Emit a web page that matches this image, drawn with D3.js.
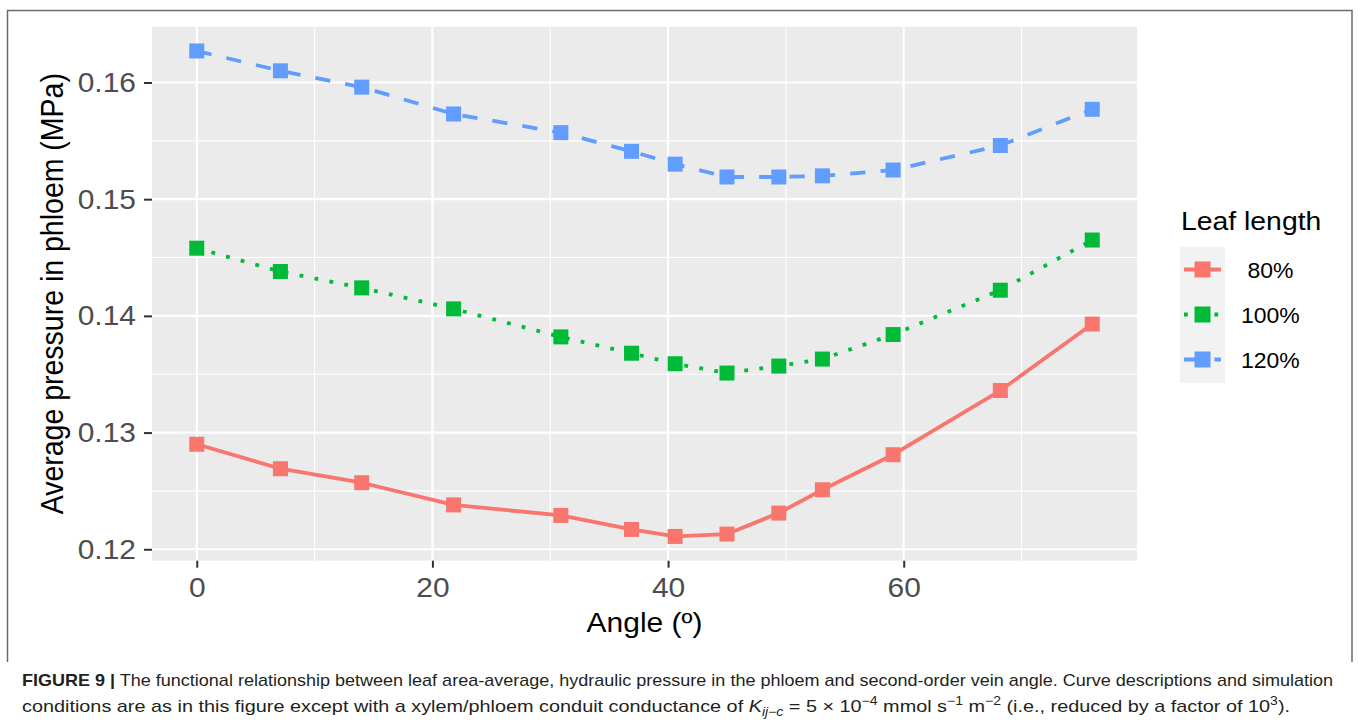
<!DOCTYPE html>
<html>
<head>
<meta charset="utf-8">
<script src="https://cdn.jsdelivr.net/npm/d3@7"></script>
<style>
  html, body { margin: 0; padding: 0; background: #ffffff; }
  svg { display: block; }
  text { font-family: "Liberation Sans", Arial, Helvetica, sans-serif; }
</style>
</head>
<body>
<svg id="chart" width="1358" height="726"></svg>
<script>
// ---- data ----
const angles = [0, 7.1, 14.0, 21.8, 30.9, 36.9, 40.6, 45.0, 49.4, 53.1, 59.1, 68.2, 76.0];
const p80  = [0.1290, 0.1269, 0.1257, 0.1238, 0.1229, 0.1217, 0.1211, 0.1213, 0.1231, 0.1251, 0.1281, 0.1336, 0.1393];
const p100 = [0.1458, 0.1438, 0.1424, 0.1406, 0.1382, 0.1368, 0.1359, 0.1351, 0.1357, 0.1363, 0.1384, 0.1422, 0.1465];
const p120 = [0.1627, 0.1610, 0.1596, 0.1573, 0.1557, 0.1541, 0.1530, 0.1519, 0.1519, 0.1520, 0.1525, 0.1546, 0.1577];
const seriesNames = [" 80%", "100%", "120%"];
const xTicks = [0, 20, 40, 60];
const xMinor = [10, 30, 50, 70];
const yTicks = [0.12, 0.13, 0.14, 0.15, 0.16];
const yMinor = [0.125, 0.135, 0.145, 0.155];

const colors = ["#F8766D", "#00BA38", "#619CFF"];
const LW = 3.8;
const dashes = [null, `${LW} ${LW*3}`, `${LW*4} ${LW*4}`];
const SX = 1.07; // horizontal stretch of the reference text

const series = [p80, p100, p120].map((vals, i) => ({
  name: seriesNames[i], color: colors[i], dash: dashes[i],
  pts: vals.map((v, j) => ({x: angles[j], y: v}))
}));

const svg = d3.select("#chart");
const panel = {left: 152, right: 1137, top: 26.7, bottom: 560.7};

// ggplot-like 5% expansion
const xr = d3.extent(angles);
const allY = p80.concat(p100, p120);
const yr = d3.extent(allY);
const xe = (xr[1] - xr[0]) * 0.05, ye = (yr[1] - yr[0]) * 0.05;
const x = d3.scaleLinear().domain([xr[0] - xe, xr[1] + xe]).range([panel.left, panel.right]);
const y = d3.scaleLinear().domain([yr[0] - ye, yr[1] + ye]).range([panel.bottom, panel.top]);

// frame
svg.append("path")
  .attr("d", "M7.5,662 L7.5,10.5 L1352,10.5 L1352,662")
  .attr("fill", "none").attr("stroke", "#6b6b6b").attr("stroke-width", 1.5);

// panel
svg.append("rect")
  .attr("x", panel.left).attr("y", panel.top)
  .attr("width", panel.right - panel.left).attr("height", panel.bottom - panel.top)
  .attr("fill", "#EBEBEB");

const grid = svg.append("g");
grid.selectAll(".ymin").data(yMinor).enter().append("line")
  .attr("x1", panel.left).attr("x2", panel.right)
  .attr("y1", d => y(d)).attr("y2", d => y(d))
  .attr("stroke", "#fff").attr("stroke-width", 1.1);
grid.selectAll(".xmin").data(xMinor).enter().append("line")
  .attr("y1", panel.top).attr("y2", panel.bottom)
  .attr("x1", d => x(d)).attr("x2", d => x(d))
  .attr("stroke", "#fff").attr("stroke-width", 1.1);
grid.selectAll(".ymaj").data(yTicks).enter().append("line")
  .attr("x1", panel.left).attr("x2", panel.right)
  .attr("y1", d => y(d)).attr("y2", d => y(d))
  .attr("stroke", "#fff").attr("stroke-width", 2.2);
grid.selectAll(".xmaj").data(xTicks).enter().append("line")
  .attr("y1", panel.top).attr("y2", panel.bottom)
  .attr("x1", d => x(d)).attr("x2", d => x(d))
  .attr("stroke", "#fff").attr("stroke-width", 2.2);

// lines
const line = d3.line().x(d => x(d.x)).y(d => y(d.y));
svg.append("g").selectAll("path").data(series).enter().append("path")
  .attr("d", d => line(d.pts))
  .attr("fill", "none")
  .attr("stroke", d => d.color)
  .attr("stroke-width", LW)
  .attr("stroke-dasharray", d => d.dash)
  .attr("stroke-linecap", "butt")
  .attr("stroke-linejoin", "round");

// points (squares)
const S = 15;
series.forEach(s => {
  svg.append("g").selectAll("rect").data(s.pts).enter().append("rect")
    .attr("x", d => x(d.x) - S/2).attr("y", d => y(d.y) - S/2)
    .attr("width", S).attr("height", S)
    .attr("fill", s.color);
});

// axes
const yAxis = d3.axisLeft(y).tickValues(yTicks).tickSize(8).tickPadding(7).tickFormat(d3.format(".2f"));
const gy = svg.append("g").attr("transform", `translate(${panel.left},0)`).call(yAxis);
gy.select(".domain").remove();
gy.selectAll(".tick line").attr("stroke", "#333333").attr("stroke-width", 2);
gy.selectAll(".tick text")
  .attr("fill", "#4D4D4D").style("font-size", "28px")
  .attr("font-family", "Liberation Sans, Arial, sans-serif")
  .attr("transform", `scale(${SX},1)`);

const xAxis = d3.axisBottom(x).tickValues(xTicks).tickSize(7).tickPadding(9);
const gx = svg.append("g").attr("transform", `translate(0,${panel.bottom})`).call(xAxis);
gx.select(".domain").remove();
gx.selectAll(".tick line").attr("stroke", "#333333").attr("stroke-width", 2);
gx.selectAll(".tick text")
  .attr("fill", "#4D4D4D").style("font-size", "28px")
  .attr("font-family", "Liberation Sans, Arial, sans-serif")
  .attr("transform", `scale(${SX},1)`);

// axis titles
svg.append("text")
  .attr("transform", `translate(${(panel.left + panel.right) / 2},631.5) scale(${SX},1)`)
  .attr("text-anchor", "middle").style("font-size", "28px").attr("fill", "#000")
  .text("Angle (º)");
svg.append("text")
  .attr("transform", `translate(63,${(panel.top + panel.bottom) / 2}) scale(${SX},1) rotate(-90)`)
  .attr("text-anchor", "middle").style("font-size", "28.5px").attr("fill", "#000")
  .text("Average pressure in phloem (MPa)");

// legend
const lg = svg.append("g");
lg.append("text")
  .attr("transform", `translate(1181,230) scale(${SX},1)`)
  .style("font-size", "26.5px").attr("fill", "#000").text("Leaf length");
lg.append("rect").attr("x", 1180).attr("y", 247).attr("width", 45).attr("height", 136).attr("fill", "#F2F2F2");
series.forEach((s, i) => {
  const cy = 269.5 + i * 45;
  lg.append("line").attr("x1", 1184).attr("x2", 1221).attr("y1", cy).attr("y2", cy)
    .attr("stroke", s.color).attr("stroke-width", LW).attr("stroke-dasharray", s.dash);
  lg.append("rect").attr("x", 1202.5 - 8).attr("y", cy - 8).attr("width", 16).attr("height", 16).attr("fill", s.color);
  lg.append("text")
    .attr("transform", `translate(1241,${cy + 8}) scale(${SX},1)`)
    .style("font-size", "21.5px").style("white-space", "pre").attr("fill", "#000")
    .text(s.name);
});

// caption
const cap1 = svg.append("text").attr("x", 22).attr("y", 686)
  .style("font-size", "17px").attr("fill", "#231F20")
  .attr("textLength", 1311).attr("lengthAdjust", "spacingAndGlyphs");
cap1.append("tspan").style("font-weight", "bold").text("FIGURE 9 |");
cap1.append("tspan").text(" The functional relationship between leaf area-average, hydraulic pressure in the phloem and second-order vein angle. Curve descriptions and simulation");

const cap2 = svg.append("text").attr("x", 22).attr("y", 712)
  .style("font-size", "17px").attr("fill", "#231F20")
  .attr("textLength", 1268).attr("lengthAdjust", "spacingAndGlyphs");
cap2.append("tspan").text("conditions are as in this figure except with a xylem/phloem conduit conductance of ");
cap2.append("tspan").style("font-style", "italic").text("K");
cap2.append("tspan").style("font-style", "italic").style("font-size", "12px").attr("dy", 4).text("ij−c");
cap2.append("tspan").attr("dy", -4).text(" = 5 × 10");
cap2.append("tspan").style("font-size", "12px").attr("dy", -7).text("−4");
cap2.append("tspan").attr("dy", 7).text(" mmol s");
cap2.append("tspan").style("font-size", "12px").attr("dy", -7).text("−1");
cap2.append("tspan").attr("dy", 7).text(" m");
cap2.append("tspan").style("font-size", "12px").attr("dy", -7).text("−2");
cap2.append("tspan").attr("dy", 7).text(" (i.e., reduced by a factor of 10");
cap2.append("tspan").style("font-size", "12px").attr("dy", -7).text("3");
cap2.append("tspan").attr("dy", 7).text(").");
</script>
</body>
</html>
